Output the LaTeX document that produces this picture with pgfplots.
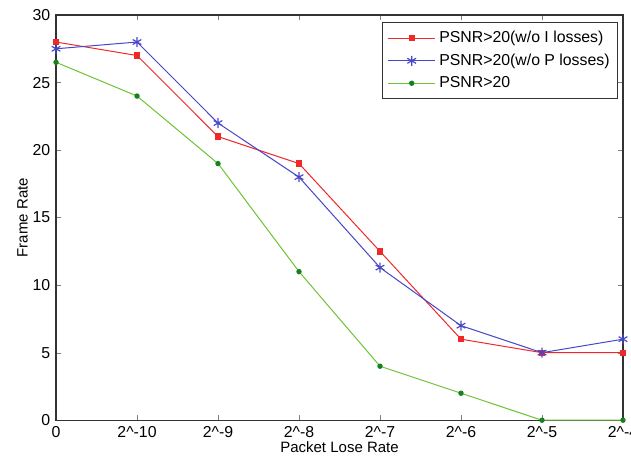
\documentclass[border=0pt]{standalone}
\usepackage{pgfplots}
\pgfplotsset{compat=1.18}
\usepackage{fontspec}
\setmainfont{Liberation Sans}
\definecolor{mred}{RGB}{240,40,40}
\definecolor{mblue}{RGB}{70,70,200}
\definecolor{mgreen}{RGB}{110,195,50}
\definecolor{mdgreen}{RGB}{20,130,30}
\begin{document}
\begin{tikzpicture}
\begin{axis}[
  name=ax,
  width=340pt, height=243pt,
  scale only axis,
  xmin=0, xmax=7, ymin=0, ymax=30,
  xtick={0,1,2,3,4,5,6,7},
  xticklabels={0,2\textasciicircum-10,2\textasciicircum-9,2\textasciicircum-8,2\textasciicircum-7,2\textasciicircum-6,2\textasciicircum-5,2\textasciicircum-4},
  ytick={0,5,10,15,20,25,30},
  tick align=inside,
  major tick length=3pt,
  /pgf/number format/assume math mode=true,
  tick label style={font=\fontsize{9.5}{11}\selectfont},
  label style={font=\fontsize{9}{11}\selectfont},
  xlabel={Packet Lose Rate},
  ylabel={Frame Rate},
  xlabel style={yshift=4pt},
  ylabel style={yshift=-4pt},
  axis line style={black!80, line width=0.7pt},
  legend style={at={(0.992,0.982)}, anchor=north east, font=\fontsize{9.5}{11}\selectfont,
    draw=black!80, line width=0.6pt, row sep=1.2pt, inner sep=3pt},
  legend cell align=left,
  legend image code/.code={\draw[#1] (0cm,0cm) -- (1cm,0cm); \draw[#1, only marks] plot coordinates {(0.5cm,0cm)};},
  clip=false,
]
\addplot[mred, line width=0.6pt, mark=square*, mark size=1.6pt] coordinates {
(0,28) (1,27) (2,21) (3,19) (4,12.5) (5,6) (6,5) (7,5)};
\addplot[mblue, line width=0.6pt, mark=asterisk, mark size=3pt, mark options={line width=0.7pt}] coordinates {
(0,27.5) (1,28) (2,22) (3,18) (4,11.3) (5,7) (6,5) (7,6)};
\addplot[mgreen, line width=0.6pt, mark=*, mark size=1.3pt, mark options={fill=mdgreen, draw=mdgreen}] coordinates {
(0,26.5) (1,24) (2,19) (3,11) (4,4) (5,2) (6,0) (7,0)};
\legend{PSNR>20(w/o I losses),PSNR>20(w/o P losses),PSNR>20}
\end{axis}
\pgfresetboundingbox
\path[use as bounding box] ([xshift=-33.6pt,yshift=-24.6pt]ax.south west) rectangle ([xshift=4.8pt,yshift=9pt]ax.north east);
\end{tikzpicture}
\end{document}
